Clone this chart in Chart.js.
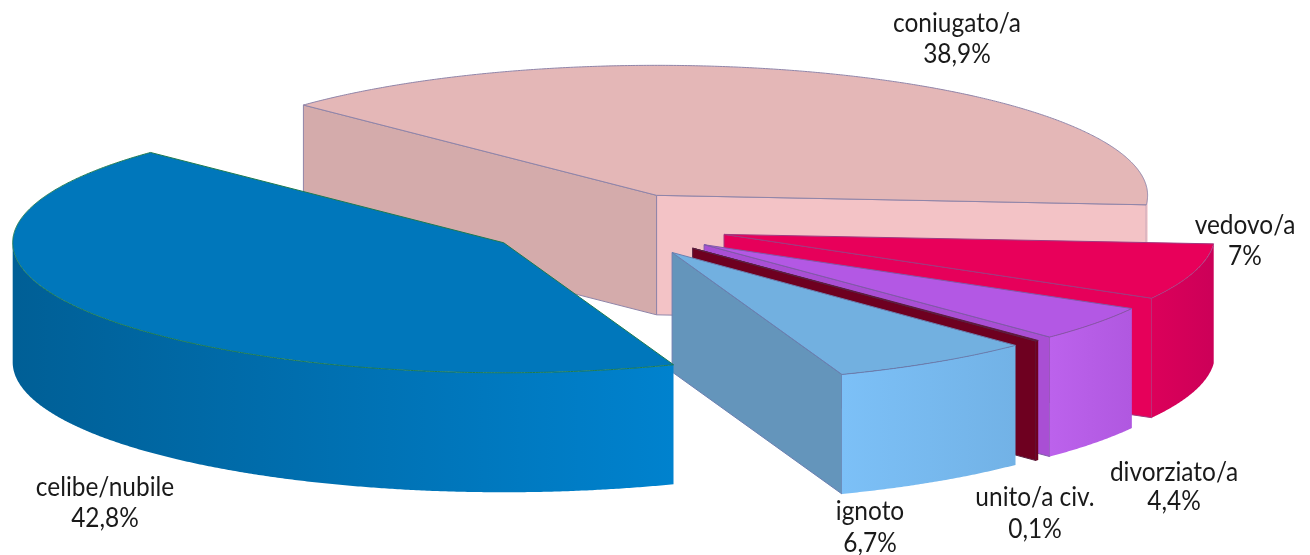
<!DOCTYPE html>
<html>
<head>
<meta charset="utf-8">
<style>html,body{margin:0;padding:0;background:#fff}canvas{display:block}</style>
<script src="https://cdn.jsdelivr.net/npm/chart.js@4"></script>
</head>
<body>
<canvas id="c" width="1310" height="555"></canvas>
<script>
const categories = ['coniugato/a','vedovo/a','divorziato/a','unito/a civ.','ignoto','celibe/nubile'];
const shares = [38.9, 7, 4.4, 0.1, 6.7, 42.8];

const topColors   = ['#e4b7b7','#e8005a','#b358e4','#6e0020','#72b0e0','#0077bb'];
const startFaces  = ['#d4abab','#e8005a','#a94fd4','#6e0020','#6495bb','#0077bb'];
const endFaces    = ['#f3c3c6','#e6005a','#a94fd4','#6e0020','#6495bb','#0077bb'];
const wallLeft    = ['#f3c3c6','#dc005a','#bc62ec','#6e0020','#7cc0f7','#005f96'];
const wallRight   = ['#f3c3c6','#cc0058','#b058e0','#6e0020','#72b2e6','#0082ce'];
const edgeColors  = ['#8f84a8','#a03a80','#7f5aa8','#5a2040','#6a7fb0','#1c7a50'];

const labelX = [957,1245,1174,1035,870,105];
const labelY1 = [24,226,473,498,512,488];
const labelY2 = [55,257,502,530,544,519];

const view = {cx:606.5, cy:225, rx:491, ry:130, depth:119.5, explode:0.25, textSqueeze:0.94};
const rotationDeg = -46;
const radius = 200;

function fmt(v){return String(v).replace('.',',')+'%';}

const pie3d = {
  id:'pie3d',
  beforeDatasetsDraw(chart){
    const ctx = chart.ctx;
    const arcs = chart.getDatasetMeta(0).data;
    arcs.forEach((arc,i)=>{
      const R = arc.outerRadius, sx = view.rx/R, sy = view.ry/R;
      const off = R*view.explode;
      const a0 = arc.startAngle, a1 = arc.endAngle, h = (a0+a1)/2;
      const ox = view.cx + Math.cos(h)*off*sx, oy = view.cy + Math.sin(h)*off*sy;
      const pt = (t,z)=>[ox+Math.cos(t)*R*sx, oy+Math.sin(t)*R*sy+(z||0)];
      const apex = [ox,oy];
      ctx.save();
      ctx.lineWidth = 1; ctx.lineJoin='round';
      ctx.strokeStyle = edgeColors[i];
      const face = (t,color)=>{
        const p=pt(t), q=pt(t,view.depth);
        ctx.beginPath();
        ctx.moveTo(apex[0],apex[1]); ctx.lineTo(p[0],p[1]); ctx.lineTo(q[0],q[1]);
        ctx.lineTo(apex[0],apex[1]+view.depth); ctx.closePath();
        ctx.fillStyle=color; ctx.fill(); ctx.stroke();
      };
      if(-Math.cos(a0)>0) face(a0,startFaces[i]);
      if(Math.cos(a1)>0) face(a1,endFaces[i]);
      const w0=Math.max(a0,0), w1=Math.min(a1,Math.PI);
      if(w1>w0){
        const n=Math.max(4,Math.ceil((w1-w0)*180));
        const pa=pt(w0), pb=pt(w1);
        const g=ctx.createLinearGradient(Math.min(pa[0],pb[0]),0,Math.max(pa[0],pb[0]),0);
        g.addColorStop(0,wallLeft[i]); g.addColorStop(1,wallRight[i]);
        ctx.beginPath();
        for(let k=0;k<=n;k++){const p=pt(w0+(w1-w0)*k/n);k?ctx.lineTo(p[0],p[1]):ctx.moveTo(p[0],p[1]);}
        for(let k=n;k>=0;k--){const p=pt(w0+(w1-w0)*k/n,view.depth);ctx.lineTo(p[0],p[1]);}
        ctx.closePath(); ctx.fillStyle=g; ctx.fill();
      }
      // top face: the library's own arc element, under the tilt transform
      ctx.save();
      ctx.translate(ox,oy); ctx.scale(sx,sy); ctx.translate(-arc.x,-arc.y);
      arc.draw(ctx,chart.chartArea);
      ctx.restore();
      // thin outline
      ctx.beginPath(); ctx.moveTo(apex[0],apex[1]);
      const n2=Math.max(4,Math.ceil((a1-a0)*180));
      for(let k=0;k<=n2;k++){const p=pt(a0+(a1-a0)*k/n2);ctx.lineTo(p[0],p[1]);}
      ctx.closePath(); ctx.stroke();
      ctx.restore();
    });
    ctx.save();
    ctx.font='26px Lato, "Open Sans", sans-serif';
    ctx.fillStyle='#1a1a1a'; ctx.textAlign='center'; ctx.textBaseline='middle';
    const text=(s,x,y)=>{ctx.save();ctx.translate(x,y);ctx.scale(view.textSqueeze,1);ctx.fillText(s,0,0);ctx.restore();};
    categories.forEach((c,i)=>{
      text(c,labelX[i],labelY1[i]);
      text(fmt(shares[i]),labelX[i],labelY2[i]);
    });
    ctx.restore();
    return false;
  }
};

new Chart(document.getElementById('c'),{
  type:'pie',
  data:{labels:categories,datasets:[{data:shares,backgroundColor:topColors,borderWidth:0}]},
  options:{
    responsive:false,animation:false,rotation:rotationDeg,radius:radius,
    layout:{padding:0},
    plugins:{legend:{display:false},tooltip:{enabled:false}}
  },
  plugins:[pie3d]
});
</script>
</body>
</html>
